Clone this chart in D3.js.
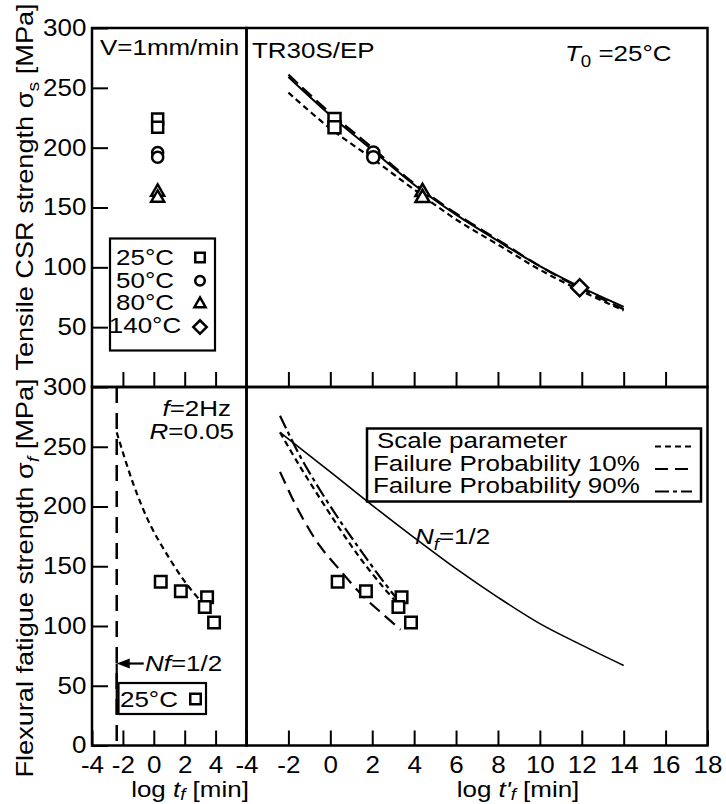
<!DOCTYPE html>
<html>
<head>
<meta charset="utf-8">
<script src="https://cdn.jsdelivr.net/npm/d3@7"></script>
<style>
body { margin: 0; background: #fff; }
text { font-family: "Liberation Sans", Arial, Helvetica, sans-serif; fill: #000; }
</style>
</head>
<body>
<div id="chart"></div>
<script>
// ---- data ----
const xTicksLeft = [-4, -2, 0, 2, 4];
const xTicksRight = [-4, -2, 0, 2, 4, 6, 8, 10, 12, 14, 16, 18];
const innerTicksLeft = [-2, 0, 2, 4];
const innerTicksRight = [-2, 0, 2, 4, 6, 8, 10, 12, 14, 16];
const yTicksTop = [50, 100, 150, 200, 250, 300];
const yTicksBottom = [0, 50, 100, 150, 200, 250, 300];

const tempLabels = ["25°C", "50°C", "80°C", "140°C"];
const tempSymbols = ["square", "circle", "triangle", "diamond"];

// CSR strength, V=1mm/min  [log t, MPa, symbol]
const csrLeft = [
  [0.25, 224, "square"], [0.25, 217, "square"],
  [0.25, 196, "circle"], [0.25, 192, "circle"],
  [0.25, 163, "triangle"], [0.25, 158, "triangle"]
];
const csrRight = [
  [0.2, 224, "square"], [0.2, 217, "square"],
  [2.05, 196, "circle"], [2.05, 192, "circle"],
  [4.4, 163, "triangle"], [4.4, 158, "triangle"],
  [11.9, 83, "diamond"]
];

// master curves for CSR strength (reduced time)
const csrSolid = [[-2, 259], [0, 227], [2, 198], [4, 169], [6, 144], [8, 122], [10, 101], [12, 83], [14, 67]];
const csrLong = [[-2, 261], [0, 229], [2, 200], [4, 170], [6, 145], [8, 123], [10, 101], [12, 82], [14, 65]];
const csrShort = [[-2, 246], [0, 216], [2, 191], [4, 165], [6, 140], [8, 119], [10, 98], [12, 80], [14, 64]];

// flexural fatigue, 25°C
const fatigueLeft = [[0.45, 137], [1.75, 129], [3.45, 124], [3.3, 116], [3.9, 103]];
const fatigueRight = [[0.35, 137], [1.7, 129], [3.4, 124], [3.25, 116], [3.85, 103]];
const fatigueCurveLeft = [[-2.4, 262], [-1.33, 219], [-0.28, 186], [0.8, 161], [2.1, 135.5], [3.1, 120]];
const nfHalfLogT = -2.4;
const nfArrowValue = 68.6;

const scaleParam = [[-2.4, 262], [-1.5, 235], [-0.5, 207], [0.5, 180], [1.5, 155], [2.5, 133], [3.1, 121]];
const prob10 = [[-2.4, 229], [-1.5, 196], [-0.5, 167], [0.5, 146], [1.5, 126], [2.5, 110], [3.35, 97]];
const prob90 = [[-2.4, 276], [-1.5, 244], [-0.5, 214], [0.5, 187], [1.5, 162], [2.5, 138], [3.3, 120]];
const nfHalf = [[-2.4, 262], [0, 229], [2, 201], [4, 174], [6, 148], [8, 124], [10, 102], [12, 84], [14, 67]];

const legendItems = ["Scale parameter", "Failure Probability 10%", "Failure Probability 90%"];
const legendDash = ["6,4", "13,7", "14,4,4,4"];

// ---- layout ----
const W = 726, H = 804;
const svg = d3.select("#chart").append("svg").attr("width", W).attr("height", H);

const xL = d3.scaleLinear().domain([-4, 6]).range([92, 246.5]);
const xR = d3.scaleLinear().domain([-4, 18]).range([246.5, 707.5]);
const yT = d3.scaleLinear().domain([0, 300]).range([387, 28]);
const yB = d3.scaleLinear().domain([0, 300]).range([745.5, 387]);

const SX = 1.18;

function label(g, x, y, parts, o = {}) {
  const fs = o.fs || 22;
  const t = g.append("text")
    .attr("transform", `translate(${x},${y})${o.rot ? " rotate(-90)" : ""} scale(${o.sx || SX},1)`)
    .attr("font-size", fs)
    .attr("text-anchor", o.anchor || "start");
  let shift = 0;
  parts.forEach(p => {
    const s = t.append("tspan").text(p.t);
    if (p.it) s.attr("font-style", "italic");
    const want = p.sub ? (o.subDy || 6) : 0;
    if (want !== shift) { s.attr("dy", want - shift); shift = want; }
    if (p.sub) s.attr("font-size", fs * 0.72);
  });
  return t;
}

function marker(g, x, y, kind, size) {
  const sym = {
    square: d3.symbolSquare, circle: d3.symbolCircle,
    triangle: d3.symbolTriangle, diamond: d3.symbolSquare
  }[kind];
  const area = size * size * (kind === "circle" ? 0.8 : kind === "triangle" ? 0.6 : 1);
  g.append("path")
    .attr("d", d3.symbol().type(sym).size(area)())
    .attr("transform", `translate(${x},${y})${kind === "diamond" ? " rotate(45)" : ""}`)
    .attr("fill", "#fff").attr("stroke", "#000").attr("stroke-width", 2.5);
}

function curve(g, data, x, y, dash, w) {
  g.append("path")
    .datum(data)
    .attr("fill", "none")
    .attr("stroke", "#000")
    .attr("stroke-width", w || 2.2)
    .attr("stroke-dasharray", dash)
    .attr("d", d3.line().x(d => x(d[0])).y(d => y(d[1])).curve(d3.curveCatmullRom));
}

// ---- axes ----
function styleAxis(g) {
  g.select(".domain").remove();
  g.selectAll(".tick line").attr("stroke", "#000").attr("stroke-width", 2);
  g.selectAll(".tick text").attr("font-size", 23).attr("fill", "#000")
    .attr("font-family", "\"Liberation Sans\", Arial, sans-serif")
    .attr("transform", "scale(1.13,1)");
}

svg.append("g").attr("transform", `translate(${xL(-4)},0)`)
  .call(d3.axisLeft(yT).tickValues(yTicksTop).tickSize(-16).tickPadding(5).tickFormat(d => String(d)))
  .call(styleAxis);
svg.append("g").attr("transform", `translate(${xL(-4)},0)`)
  .call(d3.axisLeft(yB).tickValues(yTicksBottom).tickSize(-16).tickPadding(5).tickFormat(d => String(d)))
  .call(styleAxis);

svg.append("g").attr("transform", `translate(0,${yB(0)})`)
  .call(d3.axisBottom(xL).tickValues(xTicksLeft).tickSize(-15).tickPadding(11).tickFormat(d => String(d)))
  .call(styleAxis);
svg.append("g").attr("transform", `translate(0,${yB(0)})`)
  .call(d3.axisBottom(xR).tickValues(xTicksRight).tickSize(-15).tickPadding(11).tickFormat(d => String(d)))
  .call(styleAxis);

svg.append("g").attr("transform", `translate(0,${yT(0)})`)
  .call(d3.axisBottom(xL).tickValues(innerTicksLeft).tickSize(-15).tickFormat(""))
  .call(styleAxis);
svg.append("g").attr("transform", `translate(0,${yT(0)})`)
  .call(d3.axisBottom(xR).tickValues(innerTicksRight).tickSize(-15).tickFormat(""))
  .call(styleAxis);

// panel frames
[[xL, yT], [xR, yT], [xL, yB], [xR, yB]].forEach(([x, y]) => {
  svg.append("rect")
    .attr("x", x.range()[0]).attr("y", y.range()[1])
    .attr("width", x.range()[1] - x.range()[0])
    .attr("height", y.range()[0] - y.range()[1])
    .attr("fill", "none").attr("stroke", "#000").attr("stroke-width", 2.5);
});

// ---- top left: CSR at V=1mm/min ----
const tl = svg.append("g");
csrLeft.forEach(d => marker(tl, xL(d[0]), yT(d[1]), d[2], 11));
label(tl, 100, 55, [{ t: "V=1mm/min" }]);

const lg = tl.append("g");
lg.append("rect").attr("x", 110).attr("y", 238.5).attr("width", 105).attr("height", 112)
  .attr("fill", "#fff").attr("stroke", "#000").attr("stroke-width", 2.2);
tempLabels.forEach((s, i) => {
  label(lg, 145, 265 + i * 22.6, [{ t: s }], { anchor: "middle" });
  marker(lg, 200, 257.5 + i * 23.2, tempSymbols[i], 9.5);
});

// ---- top right: CSR master curve ----
const tr = svg.append("g");
curve(tr, csrShort, xR, yT, "6,4");
curve(tr, csrLong, xR, yT, "13,6");
curve(tr, csrSolid, xR, yT, null, 2);
csrRight.forEach(d => marker(tr, xR(d[0]), yT(d[1]), d[2], 12));
label(tr, 252, 58, [{ t: "TR30S/EP" }]);
label(tr, 565, 61, [{ t: "T", it: true }, { t: "0", sub: true }, { t: " =25°C" }]);

// ---- bottom left: fatigue vs log tf ----
const bl = svg.append("g");
bl.append("line")
  .attr("x1", xL(nfHalfLogT)).attr("x2", xL(nfHalfLogT))
  .attr("y1", yB(300)).attr("y2", yB(0))
  .attr("stroke", "#000").attr("stroke-width", 2.5).attr("stroke-dasharray", "16,10");
curve(bl, fatigueCurveLeft, xL, yB, "6,4");
fatigueLeft.forEach(d => marker(bl, xL(d[0]), yB(d[1]), "square", 11.5));

label(bl, 231, 416, [{ t: "f", it: true }, { t: "=2Hz" }], { anchor: "end" });
label(bl, 234, 439, [{ t: "R", it: true }, { t: "=0.05" }], { anchor: "end" });

// N_f = 1/2 arrow
const ax = xL(nfHalfLogT), ay = yB(nfArrowValue);
bl.append("line").attr("x1", ax + 10).attr("x2", ax + 27).attr("y1", ay).attr("y2", ay)
  .attr("stroke", "#000").attr("stroke-width", 2.2);
bl.append("path").attr("d", `M${ax},${ay} L${ax + 13},${ay - 5} L${ax + 13},${ay + 5} Z`).attr("fill", "#000");
bl.append("line").attr("x1", ax).attr("x2", ax).attr("y1", ay).attr("y2", 714)
  .attr("stroke", "#000").attr("stroke-width", 2.2);
label(bl, 145, 671, [{ t: "N", it: true }, { t: "f", it: true }, { t: "=1/2" }]);

bl.append("rect").attr("x", 118.5).attr("y", 683).attr("width", 87.5).attr("height", 31)
  .attr("fill", "none").attr("stroke", "#000").attr("stroke-width", 2.2);
label(bl, 120, 707, [{ t: tempLabels[0] }]);
marker(bl, 195.5, 699, "square", 10.5);

// ---- bottom right: fatigue vs reduced time ----
const br = svg.append("g");
curve(br, nfHalf, xR, yB, null, 1.6);
curve(br, prob10, xR, yB, legendDash[1]);
curve(br, scaleParam, xR, yB, legendDash[0]);
curve(br, prob90, xR, yB, legendDash[2]);
fatigueRight.forEach(d => marker(br, xR(d[0]), yB(d[1]), "square", 11.5));
label(br, 415, 544, [{ t: "N", it: true }, { t: "f", it: true, sub: true }, { t: "=1/2" }]);

const lb = br.append("g");
lb.append("rect").attr("x", 367).attr("y", 428.5).attr("width", 334).attr("height", 73)
  .attr("fill", "#fff").attr("stroke", "#000").attr("stroke-width", 2.5);
legendItems.forEach((s, i) => {
  label(lb, i === 0 ? 377 : 373, 448 + i * 22.5, [{ t: s }]);
  lb.append("line").attr("x1", 655).attr("x2", 692)
    .attr("y1", 446.5 + i * 22.5).attr("y2", 446.5 + i * 22.5)
    .attr("stroke", "#000").attr("stroke-width", 2).attr("stroke-dasharray", legendDash[i]);
});

// ---- axis titles ----
label(svg, 33, 187, [{ t: "Tensile CSR strength σ" }, { t: "s", sub: true }, { t: " [MPa]" }],
  { rot: true, anchor: "middle", fs: 23 });
label(svg, 33, 578, [{ t: "Flexural fatigue strength σ" }, { t: "f", it: true, sub: true }, { t: " [MPa]" }],
  { rot: true, anchor: "middle", fs: 23 });
label(svg, 190, 797, [{ t: "log " }, { t: "t", it: true }, { t: "f", it: true, sub: true }, { t: " [min]" }],
  { anchor: "middle", subDy: 3 });
label(svg, 518, 797, [{ t: "log " }, { t: "t'", it: true }, { t: "f", it: true, sub: true }, { t: " [min]" }],
  { anchor: "middle", subDy: 3 });
</script>
</body>
</html>
